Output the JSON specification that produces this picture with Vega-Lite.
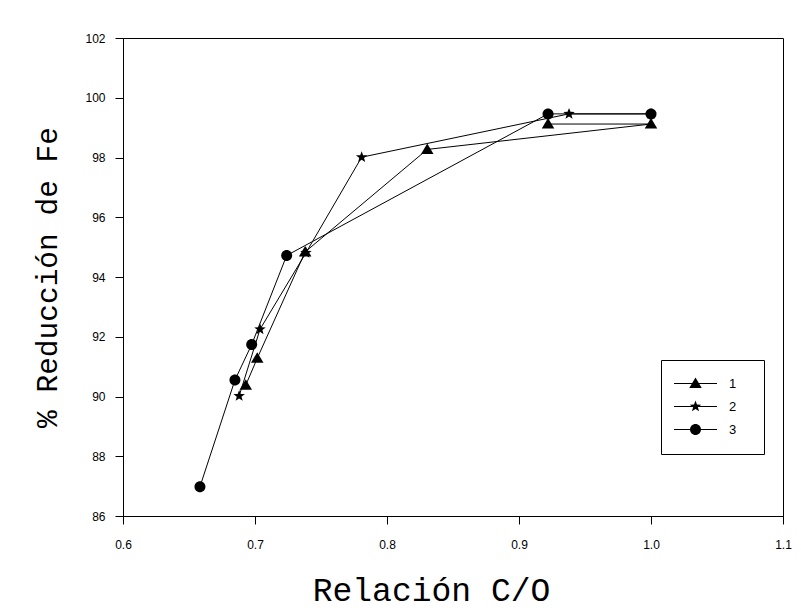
{
  "$schema": "https://vega.github.io/schema/vega-lite/v6.json",
  "width": 660,
  "height": 478,
  "autosize": {"type": "none"},
  "padding": {"left": 123, "top": 38, "right": 18, "bottom": 99},
  "background": "white",
  "config": {
    "view": {"stroke": "black", "strokeWidth": 1},
    "axis": {
      "grid": false,
      "domainColor": "black",
      "domainWidth": 1,
      "tickColor": "black",
      "tickWidth": 1,
      "tickSize": 8,
      "labelFont": "Liberation Sans",
      "labelFontSize": 12,
      "labelColor": "black",
      "labelFlush": false,
      "labelOverlap": false,
      "titleFont": "Liberation Mono",
      "titleFontWeight": "normal",
      "titleColor": "black"
    }
  },
  "data": {
    "values": [
      {"series": "1", "x": 0.693, "y": 90.38},
      {"series": "1", "x": 0.7017, "y": 91.28},
      {"series": "1", "x": 0.738, "y": 94.84},
      {"series": "1", "x": 0.8305, "y": 98.27},
      {"series": "1", "x": 1.0, "y": 99.12},
      {"series": "1", "x": 0.922, "y": 99.12},
      {"series": "2", "x": 0.688, "y": 90.02},
      {"series": "2", "x": 0.7038, "y": 92.25},
      {"series": "2", "x": 0.7386, "y": 94.81},
      {"series": "2", "x": 0.7808, "y": 98.01},
      {"series": "2", "x": 0.9379, "y": 99.46},
      {"series": "2", "x": 1.0, "y": 99.46},
      {"series": "3", "x": 0.6583, "y": 86.98},
      {"series": "3", "x": 0.6848, "y": 90.55},
      {"series": "3", "x": 0.6975, "y": 91.74},
      {"series": "3", "x": 0.724, "y": 94.72},
      {"series": "3", "x": 0.922, "y": 99.46},
      {"series": "3", "x": 1.0, "y": 99.46}
    ]
  },
  "layer": [
    {
      "mark": {"type": "line", "strokeWidth": 1},
      "encoding": {
        "x": {"field": "x", "type": "quantitative"},
        "y": {"field": "y", "type": "quantitative"},
        "color": {
          "field": "series",
          "type": "nominal",
          "scale": {"domain": ["1", "2", "3"], "range": ["black", "black", "black"]},
          "legend": {
            "orient": "none",
            "legendX": 538,
            "legendY": 322,
            "title": null,
            "strokeColor": "black",
            "padding": 17,
            "rowPadding": 9,
            "symbolType": "M-2.1,0H6.5M12.1,0",
            "symbolSize": 100,
            "symbolStrokeWidth": 1,
            "symbolStrokeColor": "black",
            "labelFont": "Liberation Sans",
            "labelFontSize": 13,
            "labelColor": "black",
            "labelOffset": 38
          }
        },
        "order": {"value": null}
      }
    },
    {
      "mark": {"type": "point", "filled": true, "color": "black", "opacity": 1, "size": 100},
      "encoding": {
        "x": {
          "field": "x",
          "type": "quantitative",
          "scale": {"domain": [0.6, 1.1], "nice": false, "zero": false},
          "axis": {
            "values": [0.6, 0.7, 0.8, 0.9, 1.0, 1.1],
            "format": ".1f",
            "labelPadding": 15,
            "title": "Relación C/O",
            "titleFontSize": 33,
            "titlePadding": 24,
            "titleX": 308
          }
        },
        "y": {
          "field": "y",
          "type": "quantitative",
          "scale": {"domain": [86, 102], "nice": false, "zero": false},
          "axis": {
            "values": [86, 88, 90, 92, 94, 96, 98, 100, 102],
            "labelPadding": 10,
            "title": "% Reducción de Fe",
            "titleFontSize": 29.5,
            "titlePadding": 22
          }
        },
        "shape": {
          "field": "series",
          "type": "nominal",
          "scale": {
            "range": [
              "M0,-1.2L1.25,0.9L-1.25,0.9Z",
              "M0,-1.2L0.294,-0.405L1.141,-0.371L0.476,0.155L0.705,0.971L0,0.5L-0.705,0.971L-0.476,0.155L-1.141,-0.371L-0.294,-0.405Z",
              "M-1.1,0A1.1,1.1,0,1,0,1.1,0A1.1,1.1,0,1,0,-1.1,0Z"
            ]
          },
          "legend": {
            "orient": "none",
            "legendX": 549,
            "legendY": 322,
            "title": null,
            "padding": 17,
            "rowPadding": 9,
            "symbolSize": 100,
            "symbolFillColor": "black",
            "symbolStrokeWidth": 0,
            "labelFont": "Liberation Sans",
            "labelFontSize": 13,
            "labelOffset": 38,
            "labelOpacity": 0
          }
        }
      }
    }
  ]
}
